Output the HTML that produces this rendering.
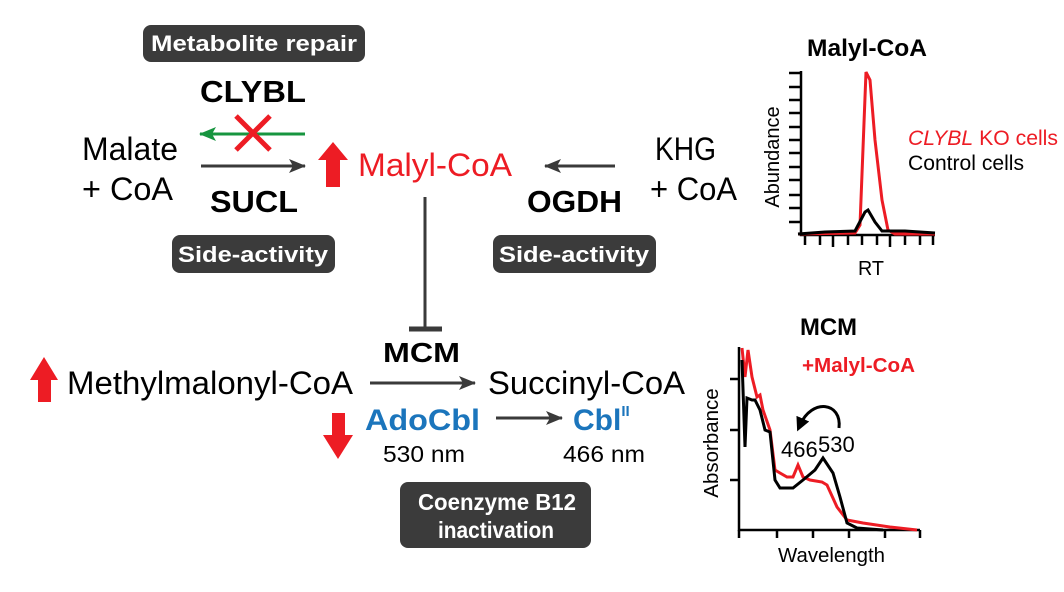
<!DOCTYPE html>
<html><head><meta charset="utf-8"><style>
html,body{margin:0;padding:0;background:#fff;}
svg{display:block;font-family:"Liberation Sans",Arial,sans-serif;}
</style></head><body>
<svg width="1064" height="592" viewBox="0 0 1064 592" xmlns="http://www.w3.org/2000/svg">
<defs>
<marker id="ah" markerWidth="17" markerHeight="14" refX="16" refY="7" orient="auto" markerUnits="userSpaceOnUse"><path d="M0,0 L17,7 L0,14 L4,7 Z" fill="#3a3a3a"/></marker>
<marker id="ahg" markerWidth="17" markerHeight="14" refX="16" refY="7" orient="auto" markerUnits="userSpaceOnUse"><path d="M0,0 L17,7 L0,14 L4,7 Z" fill="#17953f"/></marker>
<marker id="ahk" markerWidth="14" markerHeight="14" refX="7" refY="7" orient="auto" markerUnits="userSpaceOnUse"><path d="M0,0 L14,7 L0,14 Z" fill="#000"/></marker>
</defs>

<!-- Boxes -->
<rect x="143" y="25" width="222" height="37" rx="8" fill="#3b3b3b"/>
<text x="151" y="51" font-size="22" font-weight="bold" fill="#fff" textLength="206" lengthAdjust="spacingAndGlyphs">Metabolite repair</text>
<rect x="172" y="235" width="163" height="38" rx="8" fill="#3b3b3b"/>
<text x="178" y="262" font-size="22" font-weight="bold" fill="#fff" textLength="150" lengthAdjust="spacingAndGlyphs">Side-activity</text>
<rect x="493" y="235" width="163" height="38" rx="8" fill="#3b3b3b"/>
<text x="499" y="262" font-size="22" font-weight="bold" fill="#fff" textLength="150" lengthAdjust="spacingAndGlyphs">Side-activity</text>
<rect x="400" y="482" width="191" height="66" rx="8" fill="#3b3b3b"/>
<text x="418" y="510" font-size="23" font-weight="bold" fill="#fff" textLength="158" lengthAdjust="spacingAndGlyphs">Coenzyme B12</text>
<text x="438" y="538" font-size="23" font-weight="bold" fill="#fff" textLength="116" lengthAdjust="spacingAndGlyphs">inactivation</text>

<!-- Top pathway -->
<text x="200" y="102" font-size="31" font-weight="bold" textLength="106" lengthAdjust="spacingAndGlyphs">CLYBL</text>
<line x1="305" y1="134" x2="200" y2="134" stroke="#17953f" stroke-width="3" marker-end="url(#ahg)"/>
<path d="M236,116 L270,150 M270,116 L236,150" stroke="#ed1c24" stroke-width="5"/>
<text x="82" y="160" font-size="32" textLength="96" lengthAdjust="spacingAndGlyphs">Malate</text>
<text x="82" y="200" font-size="32" textLength="91" lengthAdjust="spacingAndGlyphs">+ CoA</text>
<line x1="201" y1="166" x2="305" y2="166" stroke="#3a3a3a" stroke-width="3" marker-end="url(#ah)"/>
<text x="210" y="212" font-size="31" font-weight="bold" textLength="88" lengthAdjust="spacingAndGlyphs">SUCL</text>
<path d="M333,142 L348,160 L340,160 L340,187 L326,187 L326,160 L318,160 Z" fill="#ed1c24"/>
<text x="358" y="176" font-size="32" fill="#ed1c24" textLength="154" lengthAdjust="spacingAndGlyphs">Malyl-CoA</text>
<text x="655" y="160" font-size="32" textLength="61" lengthAdjust="spacingAndGlyphs">KHG</text>
<text x="650" y="200" font-size="32" textLength="87" lengthAdjust="spacingAndGlyphs">+ CoA</text>
<line x1="615" y1="166" x2="545" y2="166" stroke="#3a3a3a" stroke-width="3" marker-end="url(#ah)"/>
<text x="527" y="212" font-size="31" font-weight="bold" textLength="95" lengthAdjust="spacingAndGlyphs">OGDH</text>

<!-- Inhibition -->
<line x1="425" y1="197" x2="425" y2="329" stroke="#3a3a3a" stroke-width="3"/>
<line x1="409" y1="329" x2="442" y2="329" stroke="#3a3a3a" stroke-width="5"/>

<!-- Bottom pathway -->
<text x="383" y="362" font-size="28" font-weight="bold" textLength="77" lengthAdjust="spacingAndGlyphs">MCM</text>
<path d="M44,357 L58,380 L51,380 L51,402 L38,402 L38,380 L30,380 Z" fill="#ed1c24"/>
<text x="67" y="394" font-size="32" textLength="286" lengthAdjust="spacingAndGlyphs">Methylmalonyl-CoA</text>
<line x1="370" y1="383" x2="475" y2="383" stroke="#3a3a3a" stroke-width="3" marker-end="url(#ah)"/>
<text x="488" y="394" font-size="32" textLength="197" lengthAdjust="spacingAndGlyphs">Succinyl-CoA</text>
<path d="M338,459 L353,435 L345,435 L345,413 L332,413 L332,435 L323,435 Z" fill="#ed1c24"/>
<text x="365" y="430" font-size="30" font-weight="bold" fill="#1b75bc" textLength="115" lengthAdjust="spacingAndGlyphs">AdoCbl</text>
<line x1="496" y1="418" x2="562" y2="418" stroke="#3a3a3a" stroke-width="3" marker-end="url(#ah)"/>
<text x="573" y="430" font-size="30" font-weight="bold" fill="#1b75bc">Cbl<tspan font-size="15" dy="-14">II</tspan></text>
<text x="383" y="462" font-size="23" textLength="82" lengthAdjust="spacingAndGlyphs">530 nm</text>
<text x="563" y="462" font-size="23" textLength="82" lengthAdjust="spacingAndGlyphs">466 nm</text>

<!-- Malyl-CoA chart -->
<text x="807" y="56" font-size="24" font-weight="bold" textLength="120" lengthAdjust="spacingAndGlyphs">Malyl-CoA</text>
<g stroke="#000" stroke-width="2.5" fill="none">
<path d="M801,71 L801,235 L935,235"/>
<path d="M789,73H801 M789,87H801 M789,100H801 M789,113H801 M789,127H801 M789,140H801 M789,153H801 M789,167H801 M789,180H801 M789,195H801 M789,208H801 M789,222H801"/>
<path d="M805,234V245 M820,234V245 M833,234V247 M848,234V245 M862,234V245 M877,234V245 M890,234V247 M905,234V245 M920,234V245 M933,234V245"/>
</g>
<path d="M798,234 L855,233 L860,225 L866,72 L870,80 L875,140 L882,200 L888,230 L895,234 L935,234" stroke="#ed1c24" stroke-width="3" fill="none"/>
<path d="M798,234 L825,232 L855,231 L865,212 L868,210 L875,222 L882,231 L905,231 L935,233" stroke="#000" stroke-width="3" fill="none"/>
<text transform="translate(779,157) rotate(-90)" font-size="20" text-anchor="middle">Abundance</text>
<text x="858" y="275" font-size="20" textLength="26" lengthAdjust="spacingAndGlyphs">RT</text>
<text x="908" y="145" font-size="21" fill="#ed1c24" textLength="150" lengthAdjust="spacingAndGlyphs"><tspan font-style="italic">CLYBL</tspan> KO cells</text>
<text x="908" y="170" font-size="21" textLength="116" lengthAdjust="spacingAndGlyphs">Control cells</text>

<!-- MCM chart -->
<text x="800" y="335" font-size="24" font-weight="bold" textLength="57" lengthAdjust="spacingAndGlyphs">MCM</text>
<g stroke="#000" stroke-width="2.5" fill="none">
<path d="M739,347 L739,530 L920,530"/>
<path d="M730,379H739 M730,430H739 M730,480H739"/>
<path d="M739,530V538 M777,530V538 M813,530V538 M849,530V538 M885,530V538 M920,530V538"/>
</g>
<path d="M742,348 L745,377 L748,350 L752,377 L757,397 L760,395 L763,410 L770,430 L775,470 L780,473 L787,477 L793,477 L798,465 L803,477 L810,480 L822,482 L827,485 L837,507 L847,520 L863,523 L890,527 L917,530" stroke="#ed1c24" stroke-width="3" fill="none"/>
<path d="M742,360 L745,447 L747,398 L752,400 L755,400 L760,410 L765,430 L770,432 L775,480 L780,488 L793,488 L803,480 L815,470 L823,458 L833,473 L840,497 L847,523 L857,528 L883,530" stroke="#000" stroke-width="3" fill="none"/>
<text x="802" y="372" font-size="20" font-weight="bold" fill="#ed1c24" textLength="113" lengthAdjust="spacingAndGlyphs">+Malyl-CoA</text>
<text transform="translate(718,443) rotate(-90)" font-size="20.5" text-anchor="middle">Absorbance</text>
<text x="778" y="562" font-size="20.5" textLength="107" lengthAdjust="spacingAndGlyphs">Wavelength</text>
<text x="781" y="457" font-size="22">466</text>
<text x="818" y="452" font-size="22">530</text>
<path d="M839,428 C842,402 812,398 800,425" stroke="#000" stroke-width="3" fill="none" marker-end="url(#ahk)"/>
</svg>
</body></html>
